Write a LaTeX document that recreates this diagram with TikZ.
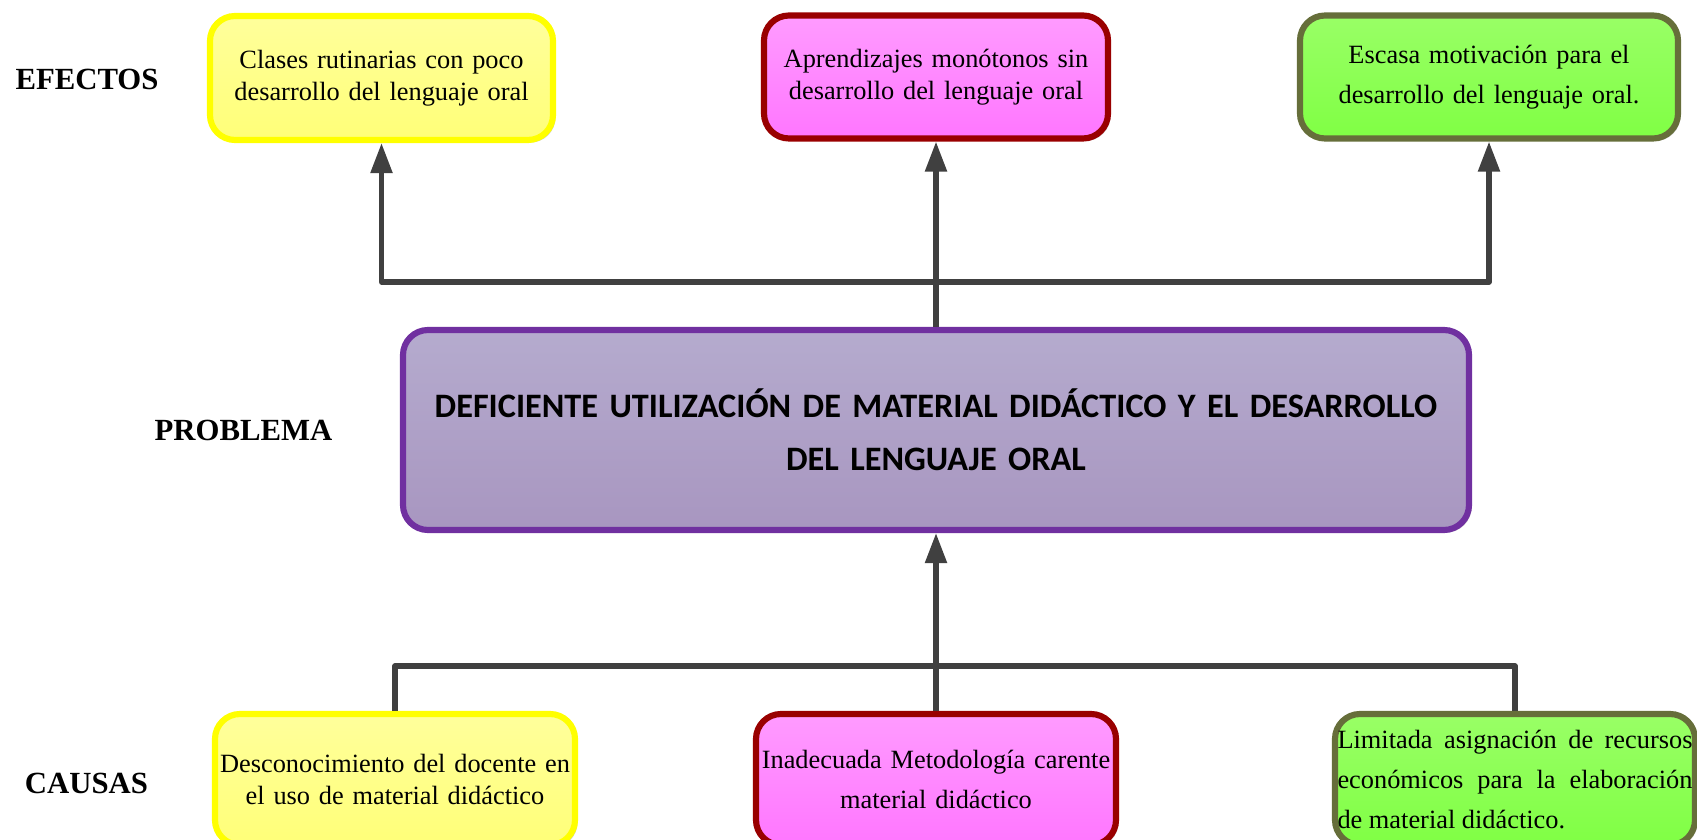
\documentclass[tikz,border=0pt]{standalone}
\usepackage{fontspec}
\setmainfont{Liberation Serif}
\newfontfamily\problemfont{Carlito}
\usepackage{tikz}
\usetikzlibrary{arrows.meta}
\usetikzlibrary{calc}
\usetikzlibrary{positioning}
\usetikzlibrary{shadows}

\definecolor{linegray}{RGB}{64,64,64}
\definecolor{boxyellow}{RGB}{255,255,0}
\definecolor{boxred}{RGB}{153,0,0}
\definecolor{boxolive}{RGB}{102,110,58}
\definecolor{boxpurple}{RGB}{112,48,160}

\tikzset{
    tree box/.style={
        draw,
        line width=3.5pt,
        rounded corners=0.5cm,
        inner sep=0.05cm,
        align=center,
        font=\fontsize{15}{18}\selectfont,
        drop shadow={shadow xshift=0.05cm, shadow yshift=-0.05cm, opacity=0.2, fill=black},
    },
    yellow box/.style={
        tree box,
        draw=boxyellow,
        top color={rgb,255:red,255;green,255;blue,155},
        bottom color={rgb,255:red,255;green,255;blue,120},
    },
    pink box/.style={
        tree box,
        draw=boxred,
        top color={rgb,255:red,255;green,155;blue,255},
        bottom color={rgb,255:red,255;green,118;blue,255},
    },
    green box/.style={
        tree box,
        draw=boxolive,
        top color={rgb,255:red,153;green,255;blue,102},
        bottom color={rgb,255:red,128;green,255;blue,68},
    },
    problem box/.style={
        tree box,
        draw=boxpurple,
        top color={rgb,255:red,181;green,171;blue,206},
        bottom color={rgb,255:red,168;green,150;blue,192},
        font=\problemfont\bfseries\fontsize{19.5}{30}\selectfont,
    },
    tree line/.style={
        draw=linegray,
        line width=3pt,
        line join=round,
    },
    tree arrow/.style={
        tree line,
        -{Triangle[length=0.6cm, width=0.42cm]},
    },
    side label/.style={
        font=\bfseries\fontsize{17.5}{21}\selectfont,
    },
}

\begin{document}
\begin{tikzpicture}

    \useasboundingbox (0,0) rectangle (33.94,16.8);
    \clip (0,0) rectangle (33.94,16.8);

    \coordinate (effect bus) at (0,11.16);
    \coordinate (cause bus) at (0,3.48);

    % efectos
    \node[yellow box, minimum width=6.86cm, minimum height=2.48cm, text width=6.7cm] (eff1) at (7.63,15.24)
        {Clases rutinarias con poco\\desarrollo del lenguaje oral};
    \node[pink box, minimum width=6.88cm, minimum height=2.46cm, text width=6.7cm] (eff2) at (18.72,15.26)
        {Aprendizajes monótonos sin\\desarrollo del lenguaje oral};
    \node[green box, minimum width=7.56cm, minimum height=2.46cm, text width=7.3cm,
        font=\fontsize{15}{22.5}\selectfont] (eff3) at (29.78,15.26)
        {Escasa motivación para el\\desarrollo del lenguaje oral.};

    % problema
    \node[problem box, minimum width=21.32cm, minimum height=4cm, text width=21cm] (problem) at (18.72,8.2)
        {DEFICIENTE UTILIZACIÓN DE MATERIAL DIDÁCTICO Y EL DESARROLLO\\DEL LENGUAJE ORAL};

    % causas
    \node[yellow box, minimum width=7.2cm, minimum height=2.62cm, text width=7.05cm] (cau1) at (7.9,1.21)
        {Desconocimiento del docente en\\el uso de material didáctico};
    \node[pink box, minimum width=7.2cm, minimum height=2.62cm, text width=7.05cm,
        font=\fontsize{15}{22.5}\selectfont] (cau2) at (18.72,1.21)
        {Inadecuada Metodología carente\\material didáctico};
    \node[green box, minimum width=7.2cm, minimum height=2.62cm, text width=7.1cm, align=justify,
        font=\fontsize{15}{23}\selectfont] (cau3) at (30.3,1.21)
        {Limitada asignación de recursos\linebreak económicos para la elaboración\linebreak de material didáctico.};

    \node[side label] (efectos) at (1.74,15.22) {EFECTOS};
    \node[side label] (problema) at (4.87,8.2) {PROBLEMA};
    \node[side label] (causas) at (1.73,1.14) {CAUSAS};

    % conectores
    \draw[tree arrow] (problem.north) -- (problem.north |- effect bus) -| (eff1.south);
    \draw[tree arrow] (problem.north |- effect bus) -| (eff3.south);
    \draw[tree arrow] (problem.north |- effect bus) -- (eff2.south);

    \draw[tree line] (cau1.north) |- (cau2.north |- cause bus) -| (cau3.north);
    \draw[tree arrow] (cau2.north) -- (problem.south);

\end{tikzpicture}
\end{document}
